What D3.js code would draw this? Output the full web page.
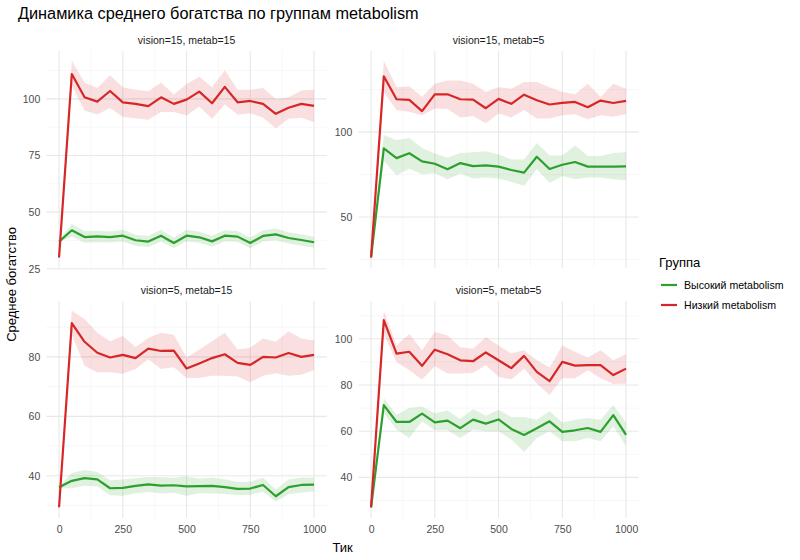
<!DOCTYPE html>
<html>
<head>
<meta charset="utf-8">
<script src="https://cdn.jsdelivr.net/npm/d3@7"></script>
<style>
  body { margin: 0; background: #fff; }
  svg text { font-family: "Liberation Sans", Arial, sans-serif; }
</style>
</head>
<body>
<div id="chart"></div>
<script>
// ticks shared by all panels
const ticks = [0, 50, 100, 150, 200, 250, 300, 350, 400, 450, 500, 550, 600, 650, 700, 750, 800, 850, 900, 950, 1000];
const xTicks = [0, 250, 500, 750, 1000];
const groups = ["Высокий metabolism", "Низкий metabolism"];
const colors = ["#2ca02c", "#d62728"];

// vision=15, metab=15
const p1HighMean = [37, 42, 39, 39.3, 39, 39.6, 37.6, 37, 39.6, 36.4, 39.6, 38.9, 37.1, 39.6, 39.2, 36.4, 39.5, 40.2, 38.6, 37.7, 36.7];
const p1HighLo   = [36.7, 39.3, 36.5, 36.7, 36.6, 37, 35.2, 34.6, 37.1, 34.2, 37.1, 36.5, 34.7, 37.2, 36.8, 34.1, 37, 37.6, 36.2, 35.2, 34.3];
const p1HighHi   = [37.3, 44.9, 41.6, 41.8, 41.5, 42.2, 40, 39.5, 42.2, 38.7, 42.2, 41.4, 39.6, 42, 41.7, 38.8, 42, 42.8, 41.1, 40.2, 39.1];
const p1LowMean  = [30, 111, 100.7, 98.8, 103.5, 98.5, 97.8, 96.8, 100.7, 97.8, 99.7, 103.2, 98.1, 105.3, 98.5, 99.1, 97.8, 93.4, 96.1, 97.8, 96.9];
const p1LowLo    = [29.7, 105.8, 94.9, 93.1, 96, 92, 91.5, 90.8, 94.2, 94.2, 92.7, 96.6, 91.2, 97.5, 93.1, 93.7, 91.7, 87.1, 91.2, 91.7, 89.8];
const p1LowHi    = [30.3, 116.8, 107.3, 104.8, 110.5, 105.1, 104, 103.4, 107.3, 101.9, 106.6, 109.8, 105.1, 112.7, 104, 104, 104.8, 100, 100.7, 103.7, 104.1];

// vision=15, metab=5
const p2HighMean = [26.2, 90.5, 84.7, 87.6, 82.8, 81.4, 78.1, 81.8, 80, 80.4, 79.7, 77.7, 76.2, 85.5, 78.3, 80.8, 82.4, 79.7, 79.7, 79.7, 79.8];
const p2HighLo   = [25.8, 83, 74.6, 78.5, 75.2, 75.8, 72.3, 75.6, 72.7, 73.3, 72.7, 70.7, 68.4, 78.1, 70, 74.2, 72.3, 73.3, 73.3, 72.3, 71.7];
const p2HighHi   = [26.6, 98.4, 95.2, 96.5, 90.7, 87.4, 84.9, 87.8, 88.2, 88.8, 86.8, 83.9, 83.9, 93.6, 86.2, 86.2, 92.1, 85.9, 85.9, 87.8, 88.2];
const p2LowMean  = [26.2, 132.9, 119.4, 119, 112.4, 122.3, 122.3, 119.4, 119.2, 114.1, 119.6, 116.7, 122.1, 118.8, 116.3, 117.2, 117.8, 114.7, 118.6, 117.2, 118.4];
const p2LowLo    = [25.8, 123.6, 113, 112, 110, 114, 113.6, 108.7, 109.5, 105.2, 111, 108.7, 113, 108.1, 108.1, 110, 110.5, 107.6, 110, 109.1, 110.7];
const p2LowHi    = [26.6, 142, 126.5, 127, 120.7, 128.5, 130.4, 130.4, 128.5, 123.6, 126.5, 125.6, 129.5, 129.5, 126.5, 123.6, 122.3, 128.5, 120.7, 128.5, 125.6];

// vision=5, metab=15
const p3HighMean = [36.1, 38.3, 39.2, 38.8, 35.8, 35.9, 36.6, 37.1, 36.7, 36.8, 36.4, 36.5, 36.6, 36.2, 35.6, 35.7, 36.9, 33.1, 36.2, 36.9, 37];
const p3HighLo   = [35.8, 35.8, 36.6, 36.4, 33.4, 33.3, 34.1, 34.5, 34, 34.3, 33.3, 34.1, 34, 33.9, 33.5, 33.5, 34.6, 31.3, 33.8, 34.4, 34.7];
const p3HighHi   = [36.4, 40.9, 41.9, 41.3, 38.5, 38.7, 39.2, 39.6, 39.5, 39.3, 39.8, 39, 39.4, 38.8, 37.9, 38, 39.3, 35.4, 38.7, 39.4, 39.4];
const p3LowMean  = [29.4, 91.4, 85.1, 81.4, 79.8, 80.7, 79.6, 82.8, 82, 82.1, 76.1, 77.8, 79.6, 80.9, 78, 77.3, 80, 79.8, 81.3, 80, 80.7];
const p3LowLo    = [29.1, 87.5, 77, 74.8, 74.8, 74.3, 75.9, 79.2, 75.9, 76.5, 72.9, 72.9, 73.7, 73.7, 73.4, 71.5, 73.7, 74.5, 73.7, 74, 75.6];
const p3LowHi    = [29.7, 95.5, 92.8, 88.1, 85.3, 87, 83.3, 86.4, 88.1, 87.5, 79.8, 82.5, 85.3, 88.1, 82.5, 83.1, 86.2, 85.1, 88.6, 86.2, 85.5];

// vision=5, metab=5
const p4HighMean = [27, 71.3, 64, 64, 67.6, 63.8, 64.6, 61.3, 65, 63.3, 65.1, 61, 58.4, 61.3, 64.3, 59.7, 60.4, 61.4, 59.7, 67, 58.4];
const p4HighLo   = [26.7, 67.8, 60.7, 57.1, 64.3, 60.4, 60.4, 57.1, 60.7, 60, 60, 56.4, 51, 57.1, 60, 55.7, 55.7, 57.1, 55.7, 62.1, 53.6];
const p4HighHi   = [27.3, 74.3, 67.1, 70, 70.7, 67.8, 69, 65.3, 69.6, 66.7, 69.3, 66.1, 66.1, 65, 68.6, 63.8, 65, 65.7, 65, 71.4, 63.8];
const p4LowMean  = [27, 108.1, 93.6, 94.4, 88.3, 95.3, 93.3, 90.7, 90.3, 94.1, 90.7, 87.3, 92.6, 85.7, 81.7, 90, 88.4, 88.6, 88.6, 84.3, 87.1];
const p4LowLo    = [26.7, 102.1, 90, 86.4, 82.4, 88.1, 85, 85, 85.3, 88.6, 83.6, 82.4, 87.1, 80.7, 75.7, 82.9, 82.9, 86.4, 82.9, 80.4, 80.7];
const p4LowHi    = [27.3, 112.1, 97.1, 102.1, 95, 102.9, 101.4, 96.4, 95.7, 100.7, 97.1, 93.6, 95, 90.7, 87.6, 97.1, 94.3, 91.9, 95, 90.7, 93.3];

const panels = [
  { title: "vision=15, metab=15", yTicks: [25, 50, 75, 100], yMinor: [37.5, 62.5, 87.5, 112.5],
    series: [[p1HighMean, p1HighLo, p1HighHi], [p1LowMean, p1LowLo, p1LowHi]] },
  { title: "vision=15, metab=5", yTicks: [50, 100], yMinor: [25, 75, 125],
    series: [[p2HighMean, p2HighLo, p2HighHi], [p2LowMean, p2LowLo, p2LowHi]] },
  { title: "vision=5, metab=15", yTicks: [40, 60, 80], yMinor: [30, 50, 70, 90],
    series: [[p3HighMean, p3HighLo, p3HighHi], [p3LowMean, p3LowLo, p3LowHi]] },
  { title: "vision=5, metab=5", yTicks: [40, 60, 80, 100], yMinor: [30, 50, 70, 90, 110],
    series: [[p4HighMean, p4HighLo, p4HighHi], [p4LowMean, p4LowLo, p4LowHi]] }
];

const width = 800, height = 560;
const panelW = 280.5, panelH = 217;
const colX = [46.3, 358.3];
const rowY = [51, 301];

const svg = d3.select("#chart").append("svg")
  .attr("width", width).attr("height", height);

svg.append("text")
  .attr("x", 18).attr("y", 19)
  .attr("font-size", 16.3).attr("fill", "#000")
  .text("Динамика среднего богатства по группам metabolism");

const xDomain = d3.extent(ticks);
const xPad = (xDomain[1] - xDomain[0]) * 0.05;
const xMinor = [125, 375, 625, 875];

panels.forEach((p, i) => {
  const col = i % 2, row = Math.floor(i / 2);
  const g = svg.append("g").attr("transform", "translate(" + colX[col] + "," + rowY[row] + ")");

  const allVals = p.series.flatMap(s => s[1].concat(s[2]));
  const yMin = d3.min(allVals), yMax = d3.max(allVals);
  const yPad = (yMax - yMin) * 0.05;

  const x = d3.scaleLinear().domain([xDomain[0] - xPad, xDomain[1] + xPad]).range([0, panelW]);
  const y = d3.scaleLinear().domain([yMin - yPad, yMax + yPad]).range([panelH, 0]);

  // grid
  const grid = g.append("g");
  grid.selectAll("line.xminor").data(xMinor).enter().append("line")
    .attr("x1", d => x(d)).attr("x2", d => x(d)).attr("y1", 0).attr("y2", panelH)
    .attr("stroke", "#f2f2f2").attr("stroke-width", 0.6);
  grid.selectAll("line.yminor").data(p.yMinor.filter(v => y(v) >= 0 && y(v) <= panelH)).enter().append("line")
    .attr("y1", d => y(d)).attr("y2", d => y(d)).attr("x1", 0).attr("x2", panelW)
    .attr("stroke", "#f2f2f2").attr("stroke-width", 0.6);
  grid.selectAll("line.xmajor").data(xTicks).enter().append("line")
    .attr("x1", d => x(d)).attr("x2", d => x(d)).attr("y1", 0).attr("y2", panelH)
    .attr("stroke", "#e8e8e8").attr("stroke-width", 1.1);
  grid.selectAll("line.ymajor").data(p.yTicks).enter().append("line")
    .attr("y1", d => y(d)).attr("y2", d => y(d)).attr("x1", 0).attr("x2", panelW)
    .attr("stroke", "#e8e8e8").attr("stroke-width", 1.1);

  // strip
  g.append("text")
    .attr("x", panelW / 2).attr("y", -7)
    .attr("text-anchor", "middle").attr("font-size", 10.5).attr("fill", "#1a1a1a")
    .text(p.title);

  // y axis
  const yAxis = g.append("g").call(d3.axisLeft(y).tickValues(p.yTicks).tickFormat(d3.format("d")).tickSize(0).tickPadding(6));
  yAxis.select(".domain").remove();
  yAxis.selectAll("text").attr("font-size", 10.5).attr("fill", "#4d4d4d")
    .style("font-family", "'Liberation Sans', Arial, sans-serif");

  // x axis only on the bottom row
  if (row === 1) {
    const xAxis = g.append("g").attr("transform", "translate(0," + panelH + ")")
      .call(d3.axisBottom(x).tickValues(xTicks).tickFormat(d3.format("d")).tickSize(0).tickPadding(8));
    xAxis.select(".domain").remove();
    xAxis.selectAll("text").attr("font-size", 10.5).attr("fill", "#4d4d4d")
      .style("font-family", "'Liberation Sans', Arial, sans-serif");
  }

  const area = d3.area().x((d, k) => x(ticks[k])).y0(d => y(d[0])).y1(d => y(d[1]));
  const line = d3.line().x((d, k) => x(ticks[k])).y(d => y(d));

  p.series.forEach((s, k) => {
    g.append("path")
      .datum(s[1].map((lo, j) => [lo, s[2][j]]))
      .attr("d", area).attr("fill", colors[k]).attr("fill-opacity", 0.15);
  });
  p.series.forEach((s, k) => {
    g.append("path")
      .datum(s[0])
      .attr("d", line).attr("fill", "none")
      .attr("stroke", colors[k]).attr("stroke-width", 2.2)
      .attr("stroke-linejoin", "round");
  });
});

// axis titles
svg.append("text")
  .attr("x", (colX[0] + colX[1] + panelW) / 2).attr("y", 552)
  .attr("text-anchor", "middle").attr("font-size", 13).attr("fill", "#000")
  .text("Тик");
svg.append("text")
  .attr("transform", "translate(16," + ((rowY[0] + rowY[1] + panelH) / 2) + ") rotate(-90)")
  .attr("text-anchor", "middle").attr("font-size", 13).attr("fill", "#000")
  .text("Среднее богатство");

// legend
const legend = svg.append("g").attr("transform", "translate(659,267)");
legend.append("text").attr("x", 0).attr("y", 0)
  .attr("font-size", 13).attr("fill", "#000").text("Группа");
const items = legend.selectAll("g.item").data(groups).enter().append("g")
  .attr("transform", (d, i) => "translate(0," + (18 + i * 20) + ")");
items.append("line").attr("x1", 2).attr("x2", 18).attr("y1", 0).attr("y2", 0)
  .attr("stroke", (d, i) => colors[i]).attr("stroke-width", 2.2);
items.append("text").attr("x", 25).attr("y", 3.5)
  .attr("font-size", 10.6).attr("fill", "#000").text(d => d);
</script>
</body>
</html>
